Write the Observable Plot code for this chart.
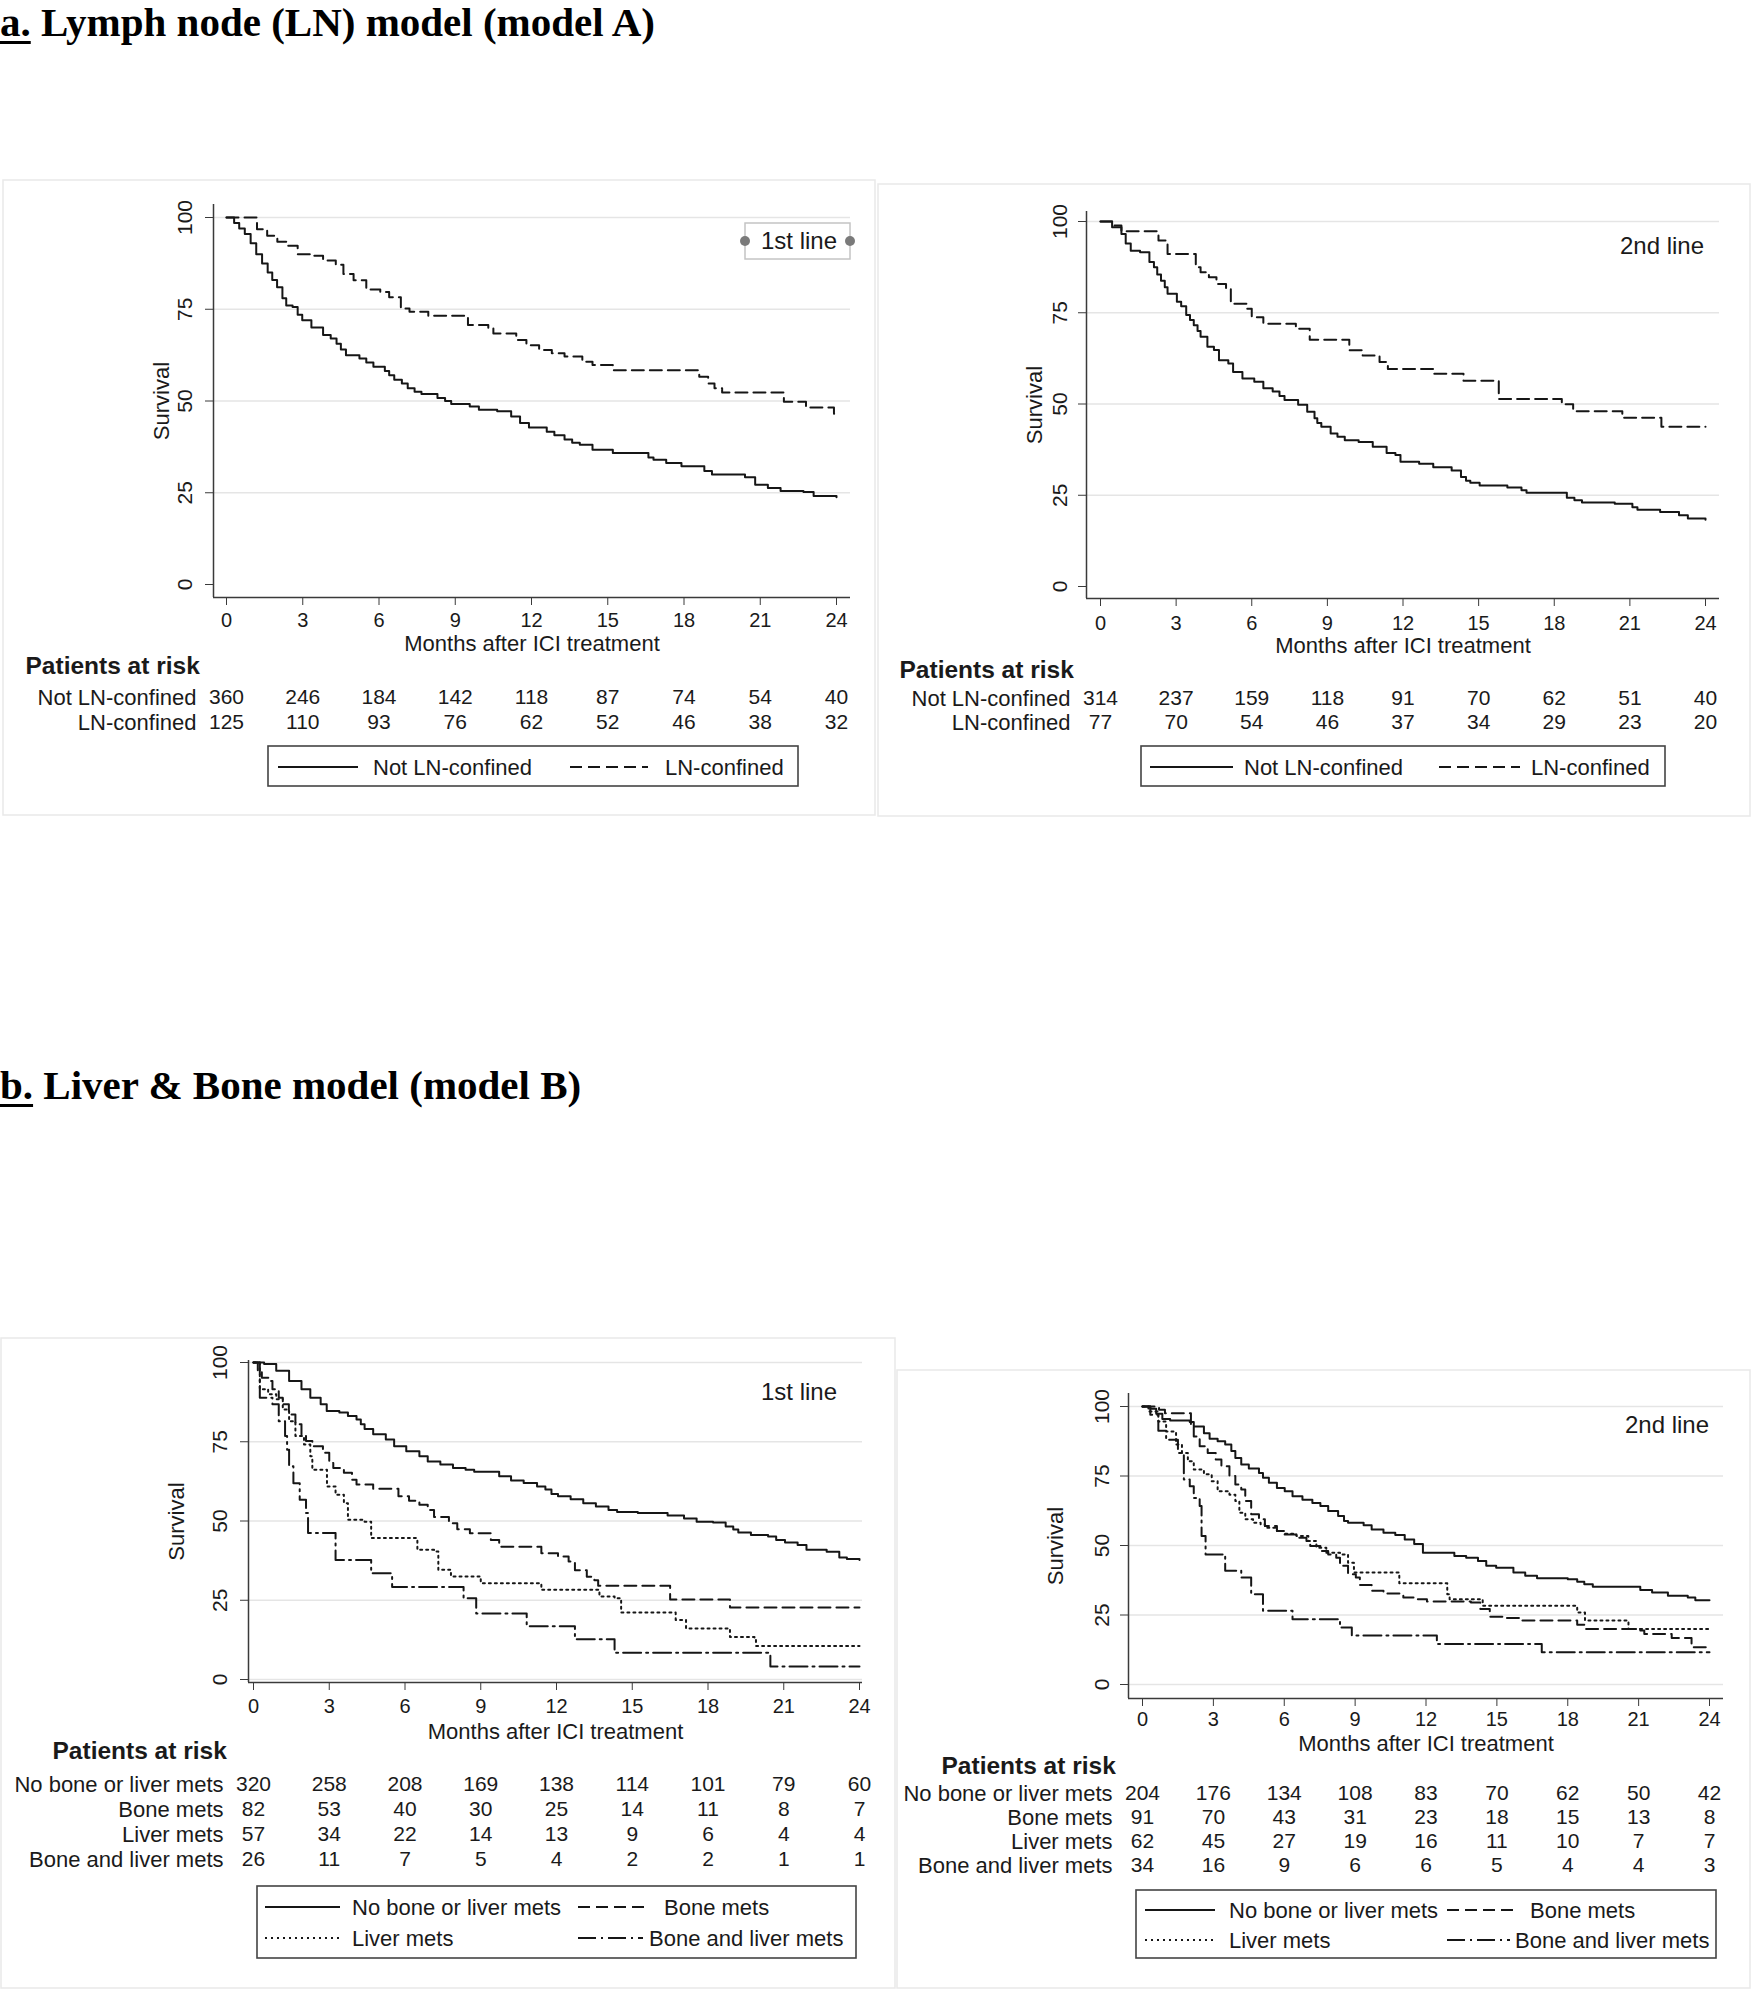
<!DOCTYPE html>
<html>
<head>
<meta charset="utf-8">
<script src="https://cdn.jsdelivr.net/npm/d3@7"></script>
<script src="https://cdn.jsdelivr.net/npm/@observablehq/plot@0.6"></script>
<style>
  body { margin: 0; background: #fff; }
  #page { position: relative; width: 1751px; height: 1989px; overflow: hidden; background: #fff;
          font-family: "Liberation Sans", Arial, sans-serif; color: #1a1a1a; }
  .title { position: absolute; left: 0; font-family: "Liberation Serif", "Times New Roman", serif;
           font-weight: bold; font-size: 41px; line-height: 1.1; white-space: nowrap; color: #000; }
  .title u { text-decoration-thickness: 3px; text-underline-offset: 5px; }
</style>
</head>
<body>
<div id="page">
  <div class="title" style="top:0px"><u>a.</u> Lymph node (LN) model (model A)</div>
  <div class="title" style="top:1063px"><u>b.</u> Liver &amp; Bone model (model B)</div>
</div>
<script>
// ---------------- data ----------------
const xTicks = [0, 3, 6, 9, 12, 15, 18, 21, 24];
const yTicks = [0, 25, 50, 75, 100];

const groupsA = ["Not LN-confined", "LN-confined"];
const groupsB = ["No bone or liver mets", "Bone mets", "Liver mets", "Bone and liver mets"];

// Model A, 1st line: [months, survival %]
const a1NotLN = [[0,100],[0.3,98.5],[0.5,97],[0.72,95.5],[0.95,93],[1.17,90],[1.4,87.5],[1.62,85],[1.8,83],[1.99,81],[2.2,78],[2.35,76],[2.6,75.6],[2.8,73.5],[2.98,72],[3.34,70],[3.8,68],[4.1,67],[4.33,65.6],[4.5,64],[4.7,62.5],[5.23,61.6],[5.5,60.5],[5.78,59.3],[6.23,58.2],[6.4,57],[6.6,55.8],[6.9,54.8],[7.13,53.5],[7.4,52.5],[7.67,51.9],[8.3,50.8],[8.6,50],[8.84,49.2],[9.57,48.5],[9.93,47.6],[10.65,47.2],[11.2,45.8],[11.55,44],[11.9,42.8],[12.6,41.6],[12.9,40.7],[13.3,39.5],[13.6,38.6],[13.9,38.1],[14.4,36.7],[15.2,35.8],[16.6,34.6],[16.8,34],[17.3,33.1],[17.9,32.2],[18.8,30.9],[19.1,30],[20.4,29.2],[20.8,27.2],[21.3,26.3],[21.8,25.5],[22.7,25.2],[23.1,24.1],[24,23.8]];
const a1LN = [[0,100],[1.2,96.8],[1.6,95],[2.0,93.4],[2.35,92.3],[2.8,90],[3.4,89.6],[3.8,88.3],[4.3,87.1],[4.6,84.6],[5.0,82.9],[5.5,80.4],[6.05,79.7],[6.4,78.3],[6.86,75.2],[7.2,74.3],[7.94,73.2],[9.5,70.7],[10.3,69.8],[10.5,68.4],[11.4,66.6],[11.8,65.2],[12.3,63.9],[12.8,63],[13.3,62.1],[14.0,60.7],[14.4,59.8],[15.2,58.4],[18.6,56.6],[18.95,54.8],[19.2,53.5],[19.5,52.3],[21.93,49.8],[22.8,48.2],[23.9,46.5],[24,46.5]];
const a1RiskNotLN = [360, 246, 184, 142, 118, 87, 74, 54, 40];
const a1RiskLN = [125, 110, 93, 76, 62, 52, 46, 38, 32];

// Model A, 2nd line
const a2NotLN = [[0,100],[0.46,98.4],[0.83,96.6],[1.0,94],[1.2,92],[1.57,91.6],[1.94,88.9],[2.12,87.5],[2.25,85.5],[2.4,83.8],[2.55,82],[2.66,80.2],[3.03,78],[3.2,76.8],[3.4,74.4],[3.55,73],[3.7,71.6],[3.85,70],[3.97,68.4],[4.24,65.7],[4.5,64.8],[4.7,62],[5.07,61.1],[5.26,58.8],[5.63,57],[6.1,56.1],[6.46,54.3],[6.83,53.4],[7.1,52.2],[7.3,51.1],[7.84,49.8],[8.2,47.9],[8.49,46.1],[8.6,44.8],[8.76,43.8],[9.13,41.9],[9.4,41],[9.69,40.1],[10.24,39.6],[10.8,38.3],[11.35,36.6],[11.7,36],[11.9,34.2],[12.64,33.6],[13.2,32.7],[13.93,31.8],[14.3,30],[14.5,29],[14.67,28.4],[15.04,27.7],[16.14,27.1],[16.7,26.4],[16.9,25.7],[18.5,24.3],[18.8,23.6],[19.1,23],[20.4,22.7],[21.1,21.7],[21.3,21],[22.2,20.4],[22.95,19.5],[23.3,18.6],[24,18.3]];
const a2LN = [[0,100],[0.46,98.9],[0.83,97.3],[2.3,94.8],[2.66,91.1],[3.78,87.5],[3.97,86.1],[4.3,84.7],[4.6,82.9],[4.98,81.6],[5.17,77.5],[5.8,76.1],[6.0,73.8],[6.46,72],[7.75,70.6],[8.3,67.6],[9.87,64.7],[10.4,63.3],[11.07,61.5],[11.4,59.6],[13.2,58.3],[14.4,56.4],[15.8,51.4],[18.3,49.9],[18.75,48],[20.7,46.2],[22.25,43.8],[24,43.8]];
const a2RiskNotLN = [314, 237, 159, 118, 91, 70, 62, 51, 40];
const a2RiskLN = [77, 70, 54, 46, 37, 34, 29, 23, 20];

// Model B, 1st line
const b1None = [[0,100],[0.42,99.5],[0.9,97.4],[1.41,94.2],[1.9,91.6],[2.25,88.9],[2.66,86.8],[2.9,84.7],[3.4,84.2],[3.74,83.1],[4.08,82],[4.25,80.5],[4.4,79],[4.74,77.4],[5.24,75.7],[5.57,73.6],[6.05,72],[6.57,70.4],[6.9,68.8],[7.4,67.8],[7.9,66.7],[8.4,66.2],[8.74,65.5],[9.73,64.1],[10.2,62.8],[10.7,62],[11.23,60.9],[11.56,59.9],[11.8,58.5],[12.06,57.8],[12.56,56.9],[13.06,55.6],[13.56,54.6],[14.06,53.5],[14.4,52.8],[15.22,52.5],[16.4,51.7],[17.05,50.8],[17.55,49.8],[18.2,49.5],[18.7,48.3],[19.0,47.3],[19.2,46.4],[19.7,45.6],[20.38,45.1],[20.7,44],[21.05,43.2],[21.55,42.4],[21.9,40.9],[22.7,40.3],[23.2,38.5],[23.5,38],[24,37.7]];
const b1Bone = [[0,100],[0.17,97.4],[0.33,95.2],[0.6,94.2],[0.75,91.6],[1.0,88.9],[1.16,86.8],[1.4,83.6],[1.66,80.5],[1.9,76.8],[2.08,75.2],[2.33,73.6],[2.75,71.5],[3.0,68.3],[3.16,66.7],[3.58,65.2],[3.9,63],[4.08,61.5],[4.74,60.2],[5.74,57.8],[6.16,56.4],[6.57,55.1],[6.9,53.5],[7.15,51.3],[7.74,49.3],[8.07,47.4],[8.57,46.1],[9.4,44],[9.73,41.9],[11.4,39.8],[12.06,38.8],[12.48,37.2],[12.73,34.5],[13.2,32.4],[13.5,31.3],[13.65,29.6],[16.5,25.2],[18.87,22.7],[24,22.7]];
const b1Liver = [[0,100],[0.25,91.6],[0.58,90],[0.9,88.4],[1.16,85.2],[1.41,81.5],[1.66,76.8],[2.0,74.1],[2.25,70.4],[2.33,66.2],[2.91,60.9],[3.25,58.3],[3.58,55.6],[3.74,50.4],[4.4,49.8],[4.66,44.6],[6.49,40.9],[7.15,40.4],[7.32,34.6],[7.82,32.5],[9.0,30.4],[11.4,28.3],[13.7,26.2],[14.3,25.6],[14.56,21.1],[16.72,18.8],[17.13,16.1],[18.87,13.4],[19.84,12.9],[19.9,10.6],[24,10.6]];
const b1Both = [[0,100],[0.25,88.9],[0.75,86.8],[1.0,81.5],[1.25,76.8],[1.33,72.5],[1.41,67.3],[1.58,61.9],[1.83,56.7],[2.08,52.5],[2.16,46.2],[3.25,37.7],[4.66,33.5],[5.49,29.2],[8.32,25.6],[8.82,20.8],[10.82,16.8],[12.73,12.7],[14.3,8.4],[20.47,4.1],[24,4.1]];
const b1RiskNone = [320, 258, 208, 169, 138, 114, 101, 79, 60];
const b1RiskBone = [82, 53, 40, 30, 25, 14, 11, 8, 7];
const b1RiskLiver = [57, 34, 22, 14, 13, 9, 6, 4, 4];
const b1RiskBoth = [26, 11, 7, 5, 4, 2, 2, 1, 1];

// Model B, 2nd line
const b2None = [[0,100],[0.33,99.2],[0.58,97.4],[0.84,95.5],[1.17,95],[2.0,94.4],[2.17,92.8],[2.6,90.4],[2.84,88.4],[3.18,87.5],[3.5,86.3],[3.76,84],[3.93,81.5],[4.18,79.1],[4.5,77.7],[4.93,76.1],[5.1,74.4],[5.35,72.6],[5.69,70.7],[6.02,69.5],[6.35,67.7],[6.77,66.5],[7.19,65.3],[7.53,64.2],[7.86,62.4],[8.28,60.6],[8.53,58.8],[8.7,58.2],[9.36,57.3],[9.7,55.8],[10.2,54.6],[10.7,53.8],[11.1,52.2],[11.5,50.5],[11.87,47.4],[13.2,46.2],[13.7,45.6],[14.2,44.4],[14.55,42.7],[14.97,42],[15.7,40.3],[16.2,39.1],[16.7,38.2],[18.0,37.9],[18.4,37.0],[18.7,36.1],[19.06,35.2],[21.07,34],[21.57,33.1],[22.24,31.9],[23.08,31.3],[23.4,30.3],[24,30.3]];
const b2Bone = [[0,100],[0.7,98.8],[0.95,97.6],[2.05,93],[2.17,89.2],[2.42,85.7],[2.76,83.3],[3.1,80.9],[3.34,78.5],[3.68,75],[3.93,71.9],[4.18,70.1],[4.35,66],[4.6,61.2],[4.93,59.4],[5.18,57],[5.69,55.2],[6.0,54],[6.5,52.8],[6.94,51.6],[7.1,49.8],[7.53,48],[7.86,46.8],[8.2,45.6],[8.36,42.7],[8.7,39.7],[9.03,38.5],[9.2,35.8],[9.7,33.7],[10.2,32.7],[11.04,31.3],[11.54,30.7],[12.04,29.9],[13.9,29.5],[14.3,27.2],[14.7,24.4],[15.38,23.9],[16.05,23],[18.4,21.5],[18.73,20],[21.07,19.4],[21.24,18.2],[22.4,16.7],[23.24,13.4],[24,13.4]];
const b2Liver = [[0,100],[0.25,98.2],[0.67,94.6],[1.0,91],[1.42,86.3],[1.67,83.3],[1.92,80.3],[2.17,77.3],[2.6,75.6],[2.93,73.1],[3.18,69.5],[3.68,68.3],[3.93,66],[4.1,61.8],[4.35,59.4],[4.68,58.2],[5.0,57.6],[5.18,56.4],[5.69,55.2],[6.02,54.2],[6.52,53.4],[7.02,51.6],[7.36,49.2],[7.78,47.4],[8.36,46.8],[8.7,43.8],[8.95,40.3],[10.87,36.4],[12.9,32.5],[13.0,30.7],[14.4,28.3],[18.4,25.9],[18.73,23],[20.57,20],[24,20]];
const b2Both = [[0,100],[0.33,97],[0.67,91.3],[1.0,88],[1.5,83.3],[1.75,73.7],[2.0,71.3],[2.17,67.1],[2.42,64.2],[2.5,53.4],[2.67,46.8],[3.5,40.9],[4.18,38.5],[4.6,32.5],[5.1,26.5],[6.35,23.5],[8.36,20.5],[8.86,17.6],[12.46,14.6],[16.9,11.6],[24,11.6]];
const b2RiskNone = [204, 176, 134, 108, 83, 70, 62, 50, 42];
const b2RiskBone = [91, 70, 43, 31, 23, 18, 15, 13, 8];
const b2RiskLiver = [62, 45, 27, 19, 16, 11, 10, 7, 7];
const b2RiskBoth = [34, 16, 9, 6, 6, 5, 4, 4, 3];

// ---------------- styles / layout ----------------
const INK = "#161616";
const AXIS = "#3a3a3a";
const dashA = [null, "12,6"];
const dashB = [null, "12,6", "2,4", "18,5,2,5"];

const panels = [
  { frame: {xAxis: 213, x0: 226, x24: 836, xRight: 850, yTop: 204, y100: 217, y0: 584, yBot: 597},
    series: [a1NotLN, a1LN], dashes: dashA, groups: groupsA, risk: [a1RiskNotLN, a1RiskLN],
    grid: [25, 50, 75, 100], xTickOff: 22, yTickOff: 28, survOff: 52, monthsOff: 46,
    table: {header: 666, rows: [697, 722]},
    border: [3, 180, 875, 815],
    legend: {box: [268, 746, 798, 786], items: [
      {x1: 278, x2: 358, y: 767, tx: 373, k: 0}, {x1: 570, x2: 648, y: 767, tx: 665, k: 1}]},
    tag: {text: "1st line", x: 799, y: 241, box: [745, 223, 850, 259]} },
  { frame: {xAxis: 1086, x0: 1100, x24: 1705, xRight: 1719, yTop: 211, y100: 221, y0: 586, yBot: 598},
    series: [a2NotLN, a2LN], dashes: dashA, groups: groupsA, risk: [a2RiskNotLN, a2RiskLN],
    grid: [25, 50, 75, 100], xTickOff: 24, yTickOff: 26, survOff: 52, monthsOff: 47,
    table: {header: 670, rows: [698, 722]},
    border: [878, 184, 1750, 816],
    legend: {box: [1141, 746, 1665, 786], items: [
      {x1: 1150, x2: 1233, y: 767, tx: 1244, k: 0}, {x1: 1439, x2: 1520, y: 767, tx: 1531, k: 1}]},
    tag: {text: "2nd line", x: 1662, y: 246} },
  { frame: {xAxis: 248, x0: 253, x24: 859, xRight: 862, yTop: 1360, y100: 1362, y0: 1679, yBot: 1682},
    series: [b1None, b1Bone, b1Liver, b1Both], dashes: dashB, groups: groupsB,
    risk: [b1RiskNone, b1RiskBone, b1RiskLiver, b1RiskBoth],
    grid: [0, 25, 50, 75, 100], xTickOff: 23, yTickOff: 28, survOff: 72, monthsOff: 49,
    table: {header: 1750, rows: [1783, 1860]},
    border: [1, 1338, 895, 1988],
    legend: {box: [257, 1886, 856, 1958], items: [
      {x1: 265, x2: 340, y: 1907, tx: 352, k: 0}, {x1: 578, x2: 649, y: 1907, tx: 664, k: 1},
      {x1: 265, x2: 340, y: 1938, tx: 352, k: 2}, {x1: 578, x2: 643, y: 1938, tx: 649, k: 3}]},
    tag: {text: "1st line", x: 799, y: 1392} },
  { frame: {xAxis: 1128, x0: 1142, x24: 1709, xRight: 1723, yTop: 1393, y100: 1406, y0: 1684, yBot: 1698},
    series: [b2None, b2Bone, b2Liver, b2Both], dashes: dashB, groups: groupsB,
    risk: [b2RiskNone, b2RiskBone, b2RiskLiver, b2RiskBoth],
    grid: [0, 25, 50, 75, 100], xTickOff: 20, yTickOff: 26, survOff: 73, monthsOff: 45,
    table: {header: 1766, rows: [1793, 1865]},
    border: [897, 1370, 1750, 1988],
    legend: {box: [1136, 1890, 1716, 1958], items: [
      {x1: 1145, x2: 1215, y: 1910, tx: 1229, k: 0}, {x1: 1447, x2: 1515, y: 1910, tx: 1530, k: 1},
      {x1: 1145, x2: 1215, y: 1940, tx: 1229, k: 2}, {x1: 1447, x2: 1510, y: 1940, tx: 1515, k: 3}]},
    tag: {text: "2nd line", x: 1667, y: 1425} }
];

const page = document.getElementById("page");
const plotStyle = {background: "transparent", fontFamily: "'Liberation Sans', Arial, sans-serif",
                   color: "#1a1a1a", maxWidth: "none", overflow: "visible"};

function place(el, left, top) {
  el.style.position = "absolute";
  el.style.left = left + "px";
  el.style.top = top + "px";
  page.appendChild(el);
}

function drawPanel(p) {
  const f = p.frame;
  const ppm = (f.x24 - f.x0) / 24, ppu = (f.y0 - f.y100) / 100;
  const xLo = -(f.x0 - f.xAxis) / ppm, xHi = 24 + (f.xRight - f.x24) / ppm;
  const yLo = -(f.yBot - f.y0) / ppu, yHi = 100 + (f.y100 - f.yTop) / ppu;
  const mL = 130, mR = 20, mT = 12, mB = 70;
  const L = f.xAxis - mL, T = f.yTop - mT;
  const W = f.xRight + mR - L, H = f.yBot + mB - T;
  const fs = 20;

  const curves = Plot.plot({
    width: W, height: H, marginLeft: mL, marginRight: mR, marginTop: mT, marginBottom: mB,
    style: plotStyle,
    x: {domain: [xLo, xHi]},
    y: {domain: [yLo, yHi]},
    marks: [
      Plot.ruleY(p.grid, {stroke: "#e5e5e5", strokeWidth: 1.5}),
      ...p.series.map((s, i) => Plot.line(s, {
        x: d => d[0], y: d => d[1], curve: "step-after",
        stroke: INK, strokeWidth: 2, strokeDasharray: p.dashes[i] || undefined
      })),
      Plot.ruleX([xLo], {stroke: AXIS, strokeWidth: 1.5}),
      Plot.ruleY([yLo], {stroke: AXIS, strokeWidth: 1.5}),
      Plot.axisX(xTicks, {tickSize: 8, tickPadding: p.xTickOff - 8 - 0.36 * fs, fontSize: fs,
                          stroke: AXIS, label: null}),
      Plot.axisY(yTicks, {tickSize: 8, tickFormat: () => "", stroke: AXIS, label: null}),
      Plot.text(yTicks, {x: () => xLo, y: d => d, text: d => String(d), rotate: -90,
                         dx: -p.yTickOff, textAnchor: "middle", lineAnchor: "middle", fontSize: 21}),
      Plot.text(["Survival"], {frameAnchor: "left", dx: -p.survOff, rotate: -90,
                               textAnchor: "middle", lineAnchor: "middle", fontSize: 22}),
      Plot.text(["Months after ICI treatment"], {frameAnchor: "bottom", dy: p.monthsOff,
                               textAnchor: "middle", lineAnchor: "middle", fontSize: 22})
    ]
  });
  place(curves, L, T);

  // at-risk table, sharing the x scale of the curves
  const tb = p.table;
  const tT = tb.header - 25, r1 = tb.rows[0], rN = tb.rows[1];
  const tH = rN - tT + 20;
  const cells = p.groups.flatMap((g, gi) => p.risk[gi].map((n, i) => ({g, t: xTicks[i], n})));
  const table = Plot.plot({
    width: W, height: tH, marginLeft: mL, marginRight: mR, marginTop: r1 - tT, marginBottom: 20,
    style: plotStyle,
    x: {domain: [xLo, xHi], axis: null},
    y: {type: "point", domain: p.groups, padding: 0, axis: null},
    marks: [
      Plot.text(cells, {x: "t", y: "g", text: d => String(d.n), fontSize: 21,
                        textAnchor: "middle", lineAnchor: "middle"}),
      Plot.text(p.groups, {x: () => 0, y: d => d, dx: -30, textAnchor: "end",
                           lineAnchor: "middle", fontSize: 22}),
      Plot.text(["Patients at risk"], {x: () => 0, y: () => p.groups[0], dx: -201, dy: -(r1 - tb.header),
                           textAnchor: "start", lineAnchor: "middle", fontSize: 24.5, fontWeight: "bold"})
    ]
  });
  place(table, L, tT);
}

panels.forEach(drawPanel);

// ---------------- decorations: panel frames, legends, line tags ----------------
const deco = d3.select(page).append("svg")
  .attr("width", 1751).attr("height", 1989)
  .style("position", "absolute").style("left", "0px").style("top", "0px")
  .style("font-family", "'Liberation Sans', Arial, sans-serif");

panels.forEach(p => {
  const [bx1, by1, bx2, by2] = p.border;
  deco.append("rect").attr("x", bx1).attr("y", by1).attr("width", bx2 - bx1).attr("height", by2 - by1)
    .attr("fill", "none").attr("stroke", "#e9e9e9").attr("stroke-width", 1.5);

  const [lx1, ly1, lx2, ly2] = p.legend.box;
  deco.append("rect").attr("x", lx1).attr("y", ly1).attr("width", lx2 - lx1).attr("height", ly2 - ly1)
    .attr("fill", "#fff").attr("stroke", "#444").attr("stroke-width", 1.6);
  p.legend.items.forEach(it => {
    deco.append("line").attr("x1", it.x1).attr("x2", it.x2).attr("y1", it.y).attr("y2", it.y)
      .attr("stroke", INK).attr("stroke-width", 2)
      .attr("stroke-dasharray", p.dashes[it.k] || null);
    deco.append("text").attr("x", it.tx).attr("y", it.y).attr("dy", "0.35em")
      .attr("font-size", 22).attr("fill", "#1a1a1a").text(p.groups[it.k]);
  });

  const tg = p.tag;
  if (tg.box) {
    const [tx1, ty1, tx2, ty2] = tg.box;
    deco.append("rect").attr("x", tx1).attr("y", ty1).attr("width", tx2 - tx1).attr("height", ty2 - ty1)
      .attr("fill", "#fff").attr("stroke", "#c4c4c4").attr("stroke-width", 1.5);
    [tx1, tx2].forEach(cx => deco.append("circle").attr("cx", cx).attr("cy", (ty1 + ty2) / 2)
      .attr("r", 5).attr("fill", "#7a7a7a"));
  }
  deco.append("text").attr("x", tg.x).attr("y", tg.y).attr("dy", "0.35em")
    .attr("text-anchor", "middle").attr("font-size", 24).attr("fill", "#1a1a1a").text(tg.text);
});
</script>
</body>
</html>
